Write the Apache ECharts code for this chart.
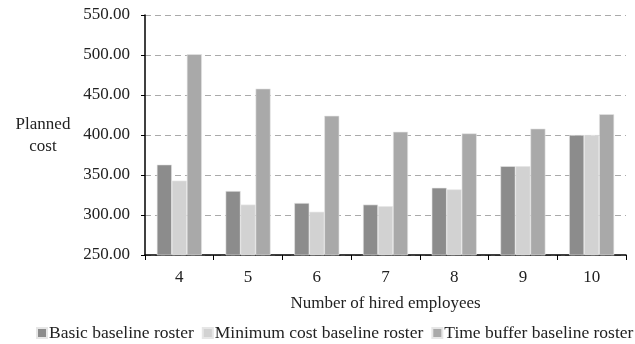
<!DOCTYPE html>
<html>
<head>
<meta charset="utf-8">
<script src="https://cdn.jsdelivr.net/npm/echarts@6/dist/echarts.min.js"></script>
<style>
  html, body { margin: 0; padding: 0; background: #fff; }
  #chart { width: 635px; height: 344px; }
</style>
</head>
<body>
<div id="chart"></div>
<script>
// Planned cost of each baseline roster by number of hired employees
const categories = ['4', '5', '6', '7', '8', '9', '10'];
const basicRoster = [363, 330, 315, 313, 334, 361, 400];
const minCostRoster = [343, 313, 304, 311, 332, 361, 400];
const timeBufferRoster = [501, 458, 424, 404, 402, 408, 426];
const yTitle = 'Planned\ncost';
const xTitle = 'Number of hired employees';

const FONT = '"Liberation Serif", "Times New Roman", serif';
const chart = echarts.init(document.getElementById('chart'));

function barSeries(name, data, color) {
  return {
    name: name,
    type: 'bar',
    data: data,
    barWidth: 15,
    barGap: '0%',
    itemStyle: { color: color, borderColor: '#e6e6e6', borderWidth: 0.6 },
    emphasis: { disabled: true }
  };
}

chart.setOption({
  animation: false,
  textStyle: { fontFamily: FONT },
  grid: { left: 145, right: 9, top: 15, bottom: 89, outerBoundsMode: 'none', containLabel: false },
  graphic: [{
    type: 'text',
    x: 43,
    y: 114,
    style: {
      text: yTitle,
      font: '17px ' + FONT,
      fill: '#222',
      align: 'center',
      verticalAlign: 'top',
      lineHeight: 22
    }
  }],
  legend: {
    top: 324,
    left: 36,
    width: 630,
    padding: 0,
    itemWidth: 10,
    itemHeight: 10,
    itemGap: 8,
    icon: 'rect',
    textStyle: { fontFamily: FONT, fontSize: 17.5, color: '#222', padding: [0, 0, 0, -3] },
    data: ['Basic baseline roster', 'Minimum cost baseline roster', 'Time buffer baseline roster']
  },
  xAxis: {
    type: 'category',
    data: categories,
    name: xTitle,
    nameLocation: 'middle',
    nameGap: 40,
    nameTextStyle: { fontFamily: FONT, fontSize: 17, color: '#222' },
    axisLine: { lineStyle: { color: '#000', width: 1.5 } },
    axisTick: { show: true, length: 5, lineStyle: { color: '#000' } },
    axisLabel: { fontFamily: FONT, fontSize: 17, color: '#222', margin: 14 }
  },
  yAxis: {
    type: 'value',
    min: 250,
    max: 550,
    interval: 50,
    axisLine: { show: true, lineStyle: { color: '#000', width: 1.5 } },
    axisTick: { show: true, length: 4, lineStyle: { color: '#000' } },
    axisLabel: {
      fontFamily: FONT, fontSize: 17, color: '#222', margin: 15,
      formatter: v => v.toFixed(2)
    },
    splitLine: { lineStyle: { color: '#aaaaaa', type: [6, 4], width: 1.2 } }
  },
  series: [
    barSeries('Basic baseline roster', basicRoster, '#8c8c8c'),
    barSeries('Minimum cost baseline roster', minCostRoster, '#d2d2d2'),
    barSeries('Time buffer baseline roster', timeBufferRoster, '#a9a9a9')
  ]
});
</script>
</body>
</html>
